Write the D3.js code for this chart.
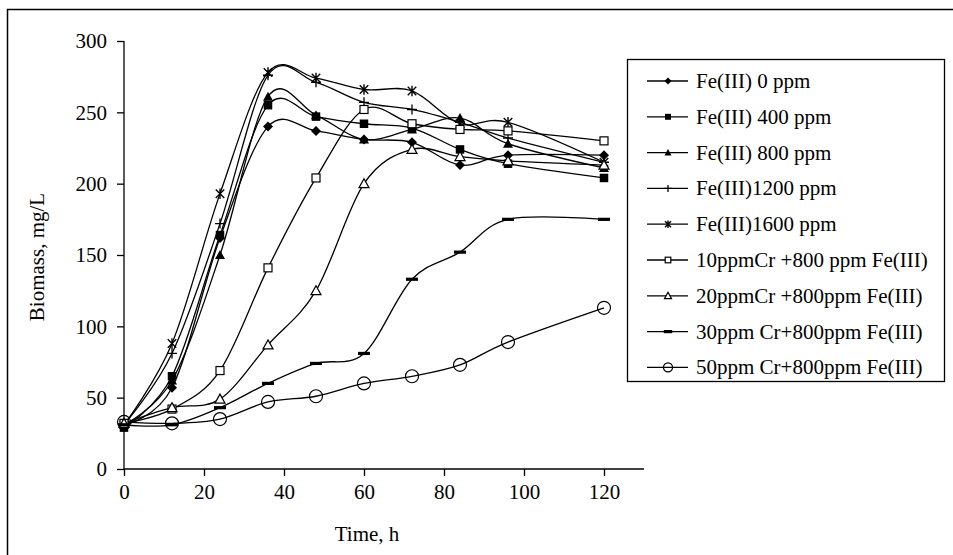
<!DOCTYPE html>
<html><head><meta charset="utf-8">
<script src="https://cdn.jsdelivr.net/npm/d3@7"></script>
<style>body{margin:0;background:#fff}svg{display:block}text{font-family:"Liberation Serif","Times New Roman",serif;fill:#000}</style>
</head><body><svg id="c" width="953" height="555"></svg>
<script>
const time = [0,12,24,36,48,60,72,84,96,120];
const fe0    = [31,57,162,240,237,231,229,213,220,220];
const fe400  = [29,65,164,255,247,242,239,224,214,204];
const fe800  = [31,62,150,261,248,231,238,246,228,211];
const fe1200 = [31,81,172,276,271,257,252,243,232,215];
const fe1600 = [31,88,193,278,274,266,265,242,243,215];
const cr10   = [32,42,69,141,204,252,242,238,237,230];
const cr20   = [32,43,49,87,125,200,224,219,216,213];
const cr30   = [31,31,43,60,74,81,133,152,175,175];
const cr50   = [33,32,35,47,51,60,65,73,89,113];
const seriesNames = ["Fe(III) 0 ppm","Fe(III) 400 ppm","Fe(III) 800 ppm","Fe(III)1200 ppm","Fe(III)1600 ppm","10ppmCr +800 ppm Fe(III)","20ppmCr +800ppm Fe(III)","30ppm Cr+800ppm Fe(III)","50ppm Cr+800ppm Fe(III)"];
const seriesValues = [fe0,fe400,fe800,fe1200,fe1600,cr10,cr20,cr30,cr50];
const markerTypes = ["diamond","square","triangle","plus","star","osquare","otriangle","dash","circle"];
const xTicks = [0,20,40,60,80,100,120];
const yTicks = [0,50,100,150,200,250,300];

const svg = d3.select("#c");
const x = d3.scaleLinear().domain([0,130]).range([124,644]);
const y = d3.scaleLinear().domain([0,300]).range([469,41]);

svg.append("path").attr("d","M7.5,560V9.5H960").attr("fill","none").attr("stroke","#000").attr("stroke-width",1.5);

const fs = 21;
const yAx = svg.append("g").attr("transform","translate(124,0)")
  .call(d3.axisLeft(y).tickValues(yTicks).tickSize(7).tickPadding(10).tickSizeOuter(0));
const xAx = svg.append("g").attr("transform","translate(0,469)")
  .call(d3.axisBottom(x).tickValues(xTicks).tickSize(7).tickPadding(8).tickSizeOuter(0));
[yAx,xAx].forEach(g=>{
  g.selectAll("path,line").attr("stroke","#000").attr("stroke-width",1.3);
  g.selectAll("text").attr("font-size",fs).attr("font-family","Liberation Serif");
});
yAx.select(".domain").attr("d","M0,469V41");
xAx.select(".domain").attr("d","M124,0H644");

svg.append("text").attr("transform","translate(44,257) rotate(-90)").attr("text-anchor","middle")
  .attr("font-size",fs).text("Biomass, mg/L");
svg.append("text").attr("x",367).attr("y",541).attr("text-anchor","middle")
  .attr("font-size",fs).text("Time, h");

function drawMarker(g, type, s){
  const h = s/2;
  switch(type){
    case "diamond": g.append("path").attr("d",`M0,${-h}L${h},0L0,${h}L${-h},0Z`).attr("fill","#000"); break;
    case "square": g.append("rect").attr("x",-h*0.85).attr("y",-h*0.85).attr("width",h*1.7).attr("height",h*1.7).attr("fill","#000"); break;
    case "triangle": g.append("path").attr("d",`M0,${-h}L${h},${h*0.8}L${-h},${h*0.8}Z`).attr("fill","#000"); break;
    case "plus": g.append("path").attr("d",`M${-h},0H${h}M0,${-h}V${h}`).attr("stroke","#000").attr("stroke-width",1.3); break;
    case "star": { const d=h*0.85; g.append("path").attr("d",`M${-d},${-d}L${d},${d}M${-d},${d}L${d},${-d}M0,${-h*1.05}V${h*1.05}`).attr("stroke","#000").attr("stroke-width",1.4); break; }
    case "osquare": g.append("rect").attr("x",-h*0.8).attr("y",-h*0.8).attr("width",h*1.6).attr("height",h*1.6).attr("fill","#fff").attr("stroke","#000").attr("stroke-width",1.2); break;
    case "otriangle": g.append("path").attr("d",`M0,${-h}L${h},${h*0.8}L${-h},${h*0.8}Z`).attr("fill","#fff").attr("stroke","#000").attr("stroke-width",1.2); break;
    case "dash": g.append("rect").attr("x",-h*1.2).attr("y",-1.6).attr("width",h*2.4).attr("height",3.2).attr("fill","#000"); break;
    case "circle": g.append("circle").attr("r",h*1.3).attr("fill","none").attr("stroke","#000").attr("stroke-width",1.2); break;
  }
}

const line = d3.line().x((d,i)=>x(time[i])).y(d=>y(d)).curve(d3.curveCardinal.tension(0));
const plot = svg.append("g");
seriesValues.forEach((vals)=>{
  plot.append("path").attr("d",line(vals)).attr("fill","none").attr("stroke","#000").attr("stroke-width",1.3);
});
seriesValues.forEach((vals,si)=>{
  vals.forEach((v,i)=>{
    const g = plot.append("g").attr("transform",`translate(${x(time[i])},${y(v)})`);
    drawMarker(g, markerTypes[si], 10);
  });
});

const lg = svg.append("g");
lg.append("rect").attr("x",627.5).attr("y",59.5).attr("width",317).attr("height",322).attr("fill","#fff").attr("stroke","#000").attr("stroke-width",1.3);
seriesNames.forEach((name,i)=>{
  const cy = 81 + i*35.8;
  const row = lg.append("g").attr("transform",`translate(0,${cy})`);
  row.append("line").attr("x1",647).attr("x2",688).attr("stroke","#000").attr("stroke-width",1.3);
  const m = row.append("g").attr("transform","translate(668,0)");
  drawMarker(m, markerTypes[i], 7);
  row.append("text").attr("x",696).attr("y",7).attr("font-size",fs).text(name);
});
</script></body></html>
